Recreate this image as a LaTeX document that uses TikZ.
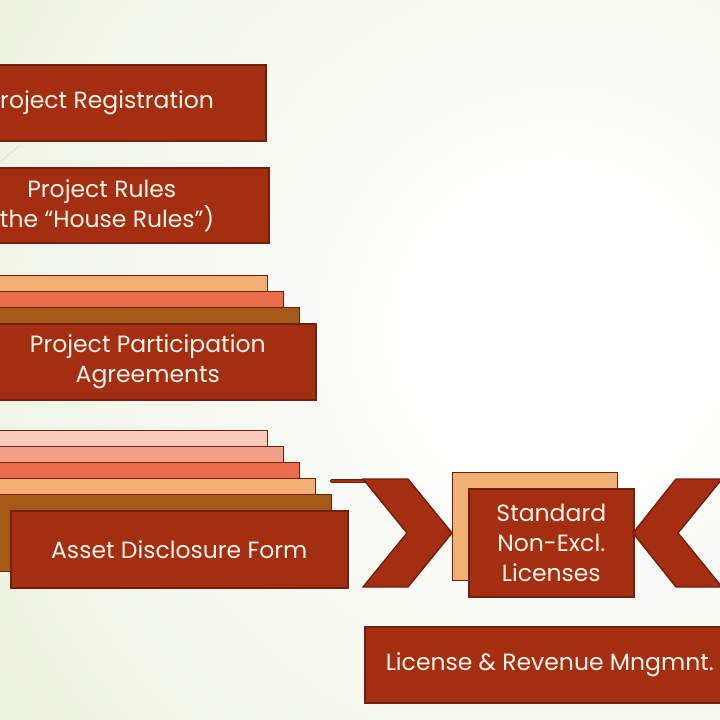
\documentclass[tikz,border=0pt]{standalone}
\usepackage{fontspec}
\setmainfont{Poppins}
\definecolor{bgout}{RGB}{225,232,203}
\definecolor{boxred}{RGB}{164,46,16}
\definecolor{boxline}{RGB}{112,32,12}
\definecolor{lorange}{RGB}{239,176,114}
\definecolor{salmon}{RGB}{234,110,76}
\definecolor{brownl}{RGB}{166,90,24}
\definecolor{lpink}{RGB}{250,204,190}
\definecolor{mpink}{RGB}{242,160,138}
\definecolor{txt}{RGB}{255,244,234}
\pgfdeclareradialshading{bgshade}{\pgfpoint{0bp}{0bp}}{color(0bp)=(white); color(3bp)=(white); color(24bp)=(bgout); color(50bp)=(bgout)}
\tikzset{
  box/.style={draw=boxline, line width=1.6pt, fill=boxred, text=txt,
    font=\fontsize{23.5}{30}\selectfont, align=center, inner sep=0pt,
    anchor=north west},
  layer/.style={draw=boxline, line width=1.4pt, inner sep=0pt, anchor=north west},
  chev/.style={draw=boxline, line width=1.4pt, fill=boxred, line join=miter}
}
\begin{document}
\begin{tikzpicture}[x=1pt,y=-1pt]
\useasboundingbox (0,0) rectangle (720,720);
\clip (0,0) rectangle (720,720);
\fill[bgout] (0,0) rectangle (720,720);
\shade[shading=bgshade] (-540,-770) rectangle (1660,1430);
\draw[black!12, line width=0.6pt] (0,162) -- (20,145);

% Project Registration
\node[box, minimum width=331pt, minimum height=76pt] (reg) at (-66,64) {Project Registration};
% Project Rules
\node[box, minimum width=334pt, minimum height=75pt] (rules) at (-66,167) {Project Rules\\(the “House Rules”)};

% Participation stack
\node[layer, fill=lorange, minimum width=336pt, minimum height=76pt] (pa3) at (-69,275) {};
\node[layer, fill=salmon, minimum width=336pt, minimum height=76pt] (pa2) at (-53,291) {};
\node[layer, fill=brownl, minimum width=336pt, minimum height=76pt] (pa1) at (-37,307) {};
\node[box, minimum width=336pt, minimum height=76pt] (ppa) at (-21,323) {Project Participation\\Agreements};

% Asset disclosure stack
\node[layer, fill=lpink, minimum width=337pt, minimum height=77pt] (ad5) at (-70,430) {};
\node[layer, fill=mpink, minimum width=337pt, minimum height=77pt] (ad4) at (-54,446) {};
\node[layer, fill=salmon, minimum width=337pt, minimum height=77pt] (ad3) at (-38,462) {};
\node[layer, fill=lorange, minimum width=337pt, minimum height=77pt] (ad2) at (-22,478) {};
\node[layer, fill=brownl, minimum width=337pt, minimum height=77pt] (ad1) at (-6,494) {};
\node[box, minimum width=337pt, minimum height=77pt] (adf) at (10,510) {Asset Disclosure Form};

% bar and left chevron
\coordinate (barstart) at (332,481);
\coordinate (barend) at (366,481);
\draw[boxline, line width=4pt, line cap=round] (barstart) -- (barend);
\draw[boxred, line width=2.2pt, line cap=round] (barstart) -- (barend);
\draw[chev] (363,479) -- (408,479) -- (452,533) -- (408,587) -- (363,587) -- (407,533) -- cycle;

% Standard licenses
\node[layer, fill=lorange, minimum width=165pt, minimum height=108pt] (stdback) at (452,472) {};
\node[box, minimum width=165pt, minimum height=108pt] (std) at (468,488) {Standard\\Non-Excl.\\Licenses};

% right chevron
\draw[chev] (633,533) -- (676,479) -- (722,479) -- (678,533) -- (722,587) -- (676,587) -- cycle;

% License & Revenue
\node[box, minimum width=370pt, minimum height=76pt] (lrm) at (364,626) {License \& Revenue Mngmnt.};
\end{tikzpicture}
\end{document}
